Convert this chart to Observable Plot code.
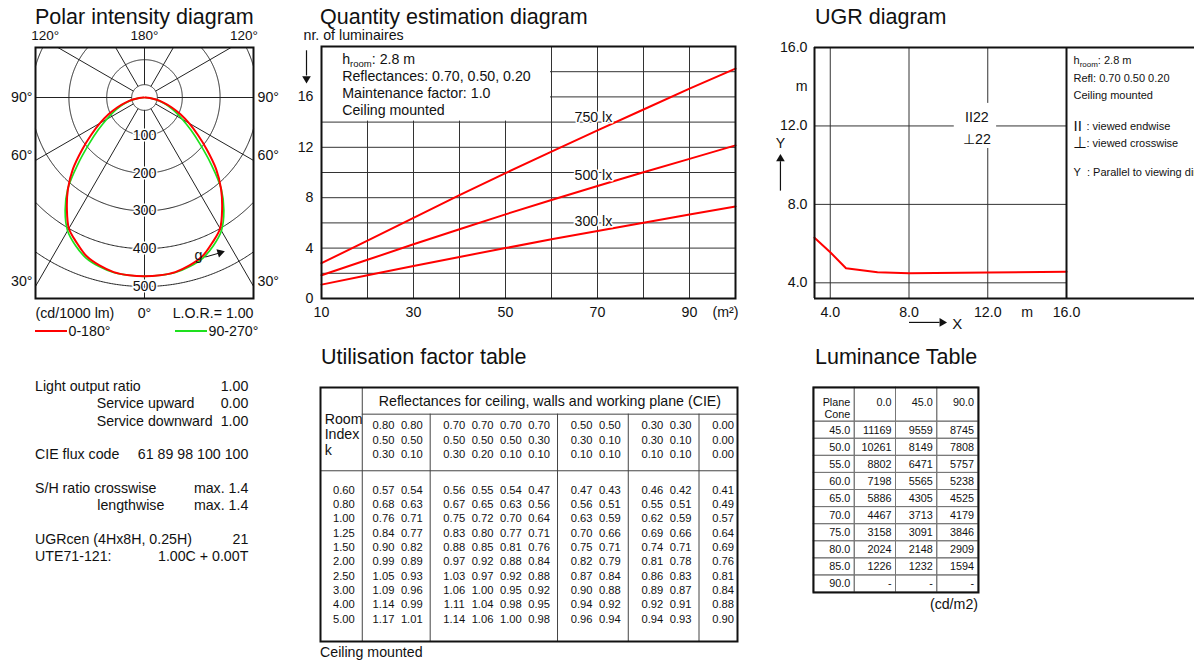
<!DOCTYPE html>
<html><head><meta charset="utf-8">
<script src="https://cdn.jsdelivr.net/npm/d3@7"></script>
<script src="https://cdn.jsdelivr.net/npm/@observablehq/plot@0.6"></script>
<style>
html,body{margin:0;padding:0;background:#fff;}
body{width:1194px;height:662px;overflow:hidden;position:relative;font-family:"Liberation Sans",Arial,Helvetica,sans-serif;color:#111;}
.t{position:absolute;white-space:nowrap;line-height:1;}
svg{position:absolute;}
</style></head><body>
<script>
// ================= DATA =================
// Polar intensity diagram (cd/1000 lm) by gamma angle from nadir
const gammaDeg = [0,5,10,15,20,25,30,35,40,45,50,55,60,65,70,75,80,85,90];
const intensityPlane0_180 = [473,472,469,460,447,424,400,358,315,268,216,172,136,105,77,52,31,14,2];
const intensityPlane90_270 = [473,472,470,463,452,432,407,366,316,249,192,150,116,90,68,48,29,13,2];
const polarRingValues = [100,200,300,400,500];
const polarSpokeAngles = [-150,-120,-90,-60,-30,0,30,60,90,120,150,180];
const polarTopLabels = [{a:-120,t:"120°"},{a:180,t:"180°"},{a:120,t:"120°"}];
const polarSideLabels = [{a:90,t:"90°"},{a:60,t:"60°"},{a:30,t:"30°"}];
const lorText = "L.O.R.= 1.00";

// Quantity estimation diagram
const roomArea = [10,20,30,40,50,60,70,80,90,100];
const luminaires750 = [2.8,4.6,6.4,8.2,9.95,11.65,13.35,15.0,16.65,18.25];
const luminaires500 = [1.85,3.07,4.3,5.5,6.68,7.82,8.93,10.02,11.08,12.15];
const luminaires300 = [1.1,1.85,2.58,3.3,4.0,4.7,5.36,6.02,6.67,7.3];
const levelNames = ["750 lx","500 lx","300 lx"];
const levelLabelY = [14.4,9.8,6.15];
const quantityInfo = ["hroom: 2.8 m","Reflectances: 0.70, 0.50, 0.20","Maintenance factor: 1.0","Ceiling mounted"];

// UGR diagram
const ugrX = [3.2,4.0,4.8,6.4,8.0,12.0,16.0];
const ugrY = [6.3,5.56,4.74,4.54,4.49,4.52,4.56];
const ugrEndwise = "II22", ugrCrosswise = "⊥22";

// Utilisation factor table
const ufGroupSizes = [2,4,2,2,1];
const ufCeiling = ["0.80","0.80","0.70","0.70","0.70","0.70","0.50","0.50","0.30","0.30","0.00"];
const ufWalls   = ["0.50","0.50","0.50","0.50","0.50","0.30","0.30","0.10","0.30","0.10","0.00"];
const ufPlane   = ["0.30","0.10","0.30","0.20","0.10","0.10","0.10","0.10","0.10","0.10","0.00"];
const ufRoomIndex = ["0.60","0.80","1.00","1.25","1.50","2.00","2.50","3.00","4.00","5.00"];
const ufValues = [
 ["0.57","0.54","0.56","0.55","0.54","0.47","0.47","0.43","0.46","0.42","0.41"],
 ["0.68","0.63","0.67","0.65","0.63","0.56","0.56","0.51","0.55","0.51","0.49"],
 ["0.76","0.71","0.75","0.72","0.70","0.64","0.63","0.59","0.62","0.59","0.57"],
 ["0.84","0.77","0.83","0.80","0.77","0.71","0.70","0.66","0.69","0.66","0.64"],
 ["0.90","0.82","0.88","0.85","0.81","0.76","0.75","0.71","0.74","0.71","0.69"],
 ["0.99","0.89","0.97","0.92","0.88","0.84","0.82","0.79","0.81","0.78","0.76"],
 ["1.05","0.93","1.03","0.97","0.92","0.88","0.87","0.84","0.86","0.83","0.81"],
 ["1.09","0.96","1.06","1.00","0.95","0.92","0.90","0.88","0.89","0.87","0.84"],
 ["1.14","0.99","1.11","1.04","0.98","0.95","0.94","0.92","0.92","0.91","0.88"],
 ["1.17","1.01","1.14","1.06","1.00","0.98","0.96","0.94","0.94","0.93","0.90"]
];

// Luminance table (cd/m2)
const lumPlanes = ["0.0","45.0","90.0"];
const lumCones = ["45.0","50.0","55.0","60.0","65.0","70.0","75.0","80.0","85.0","90.0"];
const lumValues = [
 [11169,9559,8745],[10261,8149,7808],[8802,6471,5757],[7198,5565,5238],[5886,4305,4525],
 [4467,3713,4179],[3158,3091,3846],[2024,2148,2909],[1226,1232,1594],[null,null,null]
];

// Text block
const infoRows = [
 ["Light output ratio","1.00",0],["Service upward","0.00",1],["Service downward","1.00",1],
 ["CIE flux code","61 89 98 100 100",0],["S/H ratio crosswise","max. 1.4",0],["lengthwise","max. 1.4",2],
 ["UGRcen (4Hx8H, 0.25H)","21",0],["UTE71-121:","1.00C + 0.00T",0]
];

// ================= HELPERS =================
const FONT = '"Liberation Sans", Arial, Helvetica, sans-serif';
const FS = 14.2;
const baseStyle = `font-family:${FONT};font-size:${FS}px;color:#111;background:none;overflow:visible;`;
const INK = "#111";
function put(svg, left, top){ svg.style.left = left+"px"; svg.style.top = top+"px"; document.body.appendChild(svg); return svg; }
function html(text, x, cy, size, anchor){
  const d = document.createElement("div"); d.className = "t"; d.textContent = text;
  d.style.fontSize = size+"px"; d.style.top = (cy - 0.4885*size)+"px";
  if (anchor === "end") d.style.right = (1194 - x)+"px"; else d.style.left = x+"px";
  document.body.appendChild(d); return d;
}
function title(text, x, baseline){
  const d = html(text, x, 0, 21.5); d.style.lineHeight = "0.9";
  d.style.top = (baseline - 0.7965*21.5)+"px";
}
function subRoom(svg, sub){
  const ns = "http://www.w3.org/2000/svg";
  svg.querySelectorAll("text").forEach(t => {
    if (t.textContent.startsWith("hroom")) {
      const rest = t.textContent.slice(5); t.textContent = "h";
      const s = document.createElementNS(ns,"tspan"); s.setAttribute("dy", 3); s.setAttribute("font-size", sub); s.textContent = "room";
      const r = document.createElementNS(ns,"tspan"); r.setAttribute("dy", -3); r.textContent = rest;
      t.append(s, r);
    }
  });
}

// ================= TITLES =================
title("Polar intensity diagram", 35, 25);
title("Quantity estimation diagram", 320, 25);
title("UGR diagram", 815, 25);
title("Utilisation factor table", 321, 365);
title("Luminance Table", 815, 365);

// ================= POLAR =================
const deg = Math.PI/180, hub = 34;
const PX = [-288.4, 288.4], PY = [-132.3, 531.7];
const inside = (x,y) => x >= PX[0] && x <= PX[1] && y >= PY[0] && y <= PY[1];
const ringPts = [hub, ...polarRingValues].flatMap(r => d3.range(0, 360.5, 0.5).map(t => {
  const x = r*Math.sin(t*deg), y = r*Math.cos(t*deg);
  return inside(x,y) ? {r, x, y} : {r, x: NaN, y: NaN};
}));
function rayEnd(a){
  const sx = Math.sin(a*deg), cy = Math.cos(a*deg);
  const tx = sx > 1e-9 ? PX[1]/sx : sx < -1e-9 ? PX[0]/sx : Infinity;
  const ty = cy > 1e-9 ? PY[1]/cy : cy < -1e-9 ? PY[0]/cy : Infinity;
  const t = Math.min(tx, ty); return {x: t*sx, y: t*cy};
}
function polarCurve(vals){
  const pts = gammaDeg.map((g,i) => ({g: -g, I: vals[i]})).reverse()
    .concat(gammaDeg.slice(1).map((g,i) => ({g, I: vals[i+1]})));
  return pts.map(p => ({x: p.I*Math.sin(p.g*deg), y: p.I*Math.cos(p.g*deg)}));
}
const polar = Plot.plot({
  width: 300, height: 305, marginLeft: 35, marginRight: 47, marginTop: 27, marginBottom: 27,
  x: {domain: PX, axis: null}, y: {domain: PY, reverse: true, axis: null},
  style: baseStyle,
  marks: [
    Plot.line(ringPts, {x: "x", y: "y", z: "r", stroke: "#222", strokeWidth: 1}),
    Plot.link(polarSpokeAngles, {x1: a => hub*Math.sin(a*deg), y1: a => hub*Math.cos(a*deg),
      x2: a => rayEnd(a).x, y2: a => rayEnd(a).y, stroke: "#222", strokeWidth: 1}),
    Plot.line(polarCurve(intensityPlane90_270), {x: "x", y: "y", stroke: "#1ee01e", strokeWidth: 1.7, curve: "catmull-rom"}),
    Plot.line(polarCurve(intensityPlane0_180), {x: "x", y: "y", stroke: "#ff0000", strokeWidth: 2, curve: "catmull-rom"}),
    Plot.text(polarRingValues, {x: 0, y: d => d, text: d => String(d), fontSize: FS, fill: INK, stroke: "white", strokeWidth: 3}),
    Plot.text(["g"], {x: 143, y: 417, text: d => d, fontSize: FS, fill: INK}),
    Plot.link([0], {x1: 161, y1: 422, x2: 196, y2: 412, stroke: INK, strokeWidth: 1}),
    Plot.dot([0], {x: 200, y: 410.5, symbol: "triangle", rotate: 73, r: 3.2, fill: INK, stroke: "none"}),
    Plot.frame({stroke: INK, strokeWidth: 2}),
    Plot.text(polarTopLabels, {x: d => d.a === 180 ? 0 : Math.sign(d.a)*263, text: "t", frameAnchor: "top", lineAnchor: "middle", dy: -11.5, fontSize: 13.5, fill: INK}),
    Plot.text(polarSideLabels.filter(d => d.a === 90), {y: 0, text: "t", frameAnchor: "left", textAnchor: "end", dx: -3, fontSize: FS, fill: INK}),
    Plot.text(polarSideLabels.filter(d => d.a === 90), {y: 0, text: "t", frameAnchor: "right", textAnchor: "start", dx: 4, fontSize: FS, fill: INK}),
    Plot.text(polarSideLabels.filter(d => d.a !== 90), {y: d => PX[1]/Math.tan(d.a*deg), text: "t", frameAnchor: "left", textAnchor: "end", dx: -3, dy: -5, fontSize: FS, fill: INK}),
    Plot.text(polarSideLabels.filter(d => d.a !== 90), {y: d => PX[1]/Math.tan(d.a*deg), text: "t", frameAnchor: "right", textAnchor: "start", dx: 4, dy: -5, fontSize: FS, fill: INK}),
    Plot.text(["(cd/1000 lm)"], {text: d => d, frameAnchor: "bottom-left", textAnchor: "start", lineAnchor: "middle", dy: 14.7, fontSize: FS, fill: INK}),
    Plot.text(["0°"], {x: 0, text: d => d, frameAnchor: "bottom", lineAnchor: "middle", dy: 14.7, fontSize: FS, fill: INK}),
    Plot.text([lorText], {text: d => d, frameAnchor: "bottom-right", textAnchor: "end", lineAnchor: "middle", dy: 14.7, fontSize: FS, fill: INK})
  ]
});
put(polar, 0, 20);
// legend
function legendLine(x, color, text){
  const d = document.createElement("div");
  Object.assign(d.style, {position: "absolute", left: x+"px", top: "330px", width: "32px", height: "2px", background: color});
  document.body.appendChild(d);
  html(text, x + 33.5, 331, FS);
}
legendLine(35, "#ff0000", "0-180°");
legendLine(175, "#1ee01e", "90-270°");

// ================= QUANTITY =================
const qSeries = [luminaires750, luminaires500, luminaires300].flatMap((s, k) => s.map((v, i) => ({level: levelNames[k], area: roomArea[i], n: v})));
const quantity = Plot.plot({
  width: 460, height: 295, marginLeft: 26, marginRight: 20, marginTop: 18, marginBottom: 25,
  x: {domain: [10, 100], ticks: [10,30,50,70,90], tickSize: 0, tickPadding: 8, label: null},
  y: {domain: [0, 20], ticks: [0,4,8,12,16], tickSize: 0, tickPadding: 8, label: null},
  style: baseStyle,
  marks: [
    Plot.ruleX(d3.range(20, 100, 10), {stroke: "#333", strokeWidth: 1}),
    Plot.ruleY(d3.range(2, 20, 2), {stroke: "#333", strokeWidth: 1}),
    Plot.rect([0], {x1: 10, x2: 60, y1: 14, y2: 20, fill: "white", insetRight: 1, insetBottom: 1}),
    Plot.line(qSeries, {x: "area", y: "n", z: "level", stroke: "#ff0000", strokeWidth: 2}),
    Plot.text(levelNames, {x: 65, y: (d, i) => levelLabelY[i], text: d => d, textAnchor: "start", fontSize: FS, fill: INK, stroke: "white", strokeWidth: 3}),
    Plot.text(quantityInfo, {x: 14.5, y: (d, i) => 19 - i*1.36, text: d => d, textAnchor: "start", fontSize: FS, fill: INK}),
    Plot.frame({stroke: INK, strokeWidth: 2}),
    Plot.text(["nr. of luminaires"], {text: d => d, frameAnchor: "top-left", textAnchor: "start", lineAnchor: "middle", dx: -18, dy: -11, fontSize: FS, fill: INK}),
    Plot.link([0], {x1: 6.74, x2: 6.74, y1: 19.7, y2: 17.7, stroke: INK, strokeWidth: 1.2}),
    Plot.dot([0], {x: 6.74, y: 17.45, symbol: "triangle", rotate: 180, r: 3.2, fill: INK, stroke: "none"}),
    Plot.text(["(m²)"], {x: 100, text: d => d, frameAnchor: "bottom", textAnchor: "end", lineAnchor: "top", dy: 8, dx: 3, fontSize: FS, fill: INK})
  ]
});
subRoom(quantity, 9.5);
put(quantity, 295, 28);

// ================= UGR =================
const ugrData = ugrX.map((x, i) => ({x, y: ugrY[i]}));
const ugrPanel = [
  {t: "hroom: 2.8 m", dy: 13, dx: 7, s: 11},
  {t: "Refl: 0.70 0.50 0.20", dy: 31, dx: 7, s: 11},
  {t: "Ceiling mounted", dy: 48, dx: 7, s: 11},
  {t: "II", dy: 78.5, dx: 7, s: 15},
  {t: ": viewed endwise", dy: 79, dx: 20, s: 11},
  {t: "⊥", dy: 95.5, dx: 6, s: 16},
  {t: ": viewed crosswise", dy: 96, dx: 20, s: 11},
  {t: "Y\u00a0\u00a0: Parallel to viewing direction", dy: 125, dx: 7, s: 11}
];
const f1 = d3.format(".1f");
const ugr = Plot.plot({
  width: 470, height: 310, marginLeft: 44, marginRight: 174, marginTop: 19, marginBottom: 40,
  x: {domain: [3.2, 16], ticks: [4,8,12,16], tickFormat: f1, tickSize: 0, tickPadding: 8, label: null},
  y: {domain: [3.2, 16], ticks: [4,8,12,16], tickFormat: f1, tickSize: 0, tickPadding: 7, label: null},
  style: baseStyle,
  marks: [
    Plot.ruleX([4,8,12], {stroke: "#333", strokeWidth: 1}),
    Plot.ruleY([4,8,12], {stroke: "#333", strokeWidth: 1}),
    Plot.rect([0], {x1: 10.3, x2: 12.45, y1: 10.85, y2: 13.15, fill: "white"}),
    Plot.text([ugrEndwise], {x: 11.45, y: 12.42, text: d => d, fontSize: FS, fill: INK}),
    Plot.text([ugrCrosswise], {x: 11.45, y: 11.3, text: d => d, fontSize: FS, fill: INK}),
    Plot.line(ugrData, {x: "x", y: "y", stroke: "#ff0000", strokeWidth: 2}),
    Plot.ruleY([3.2, 16], {x1: 3.2, x2: 40, stroke: INK, strokeWidth: 2}),
    Plot.ruleX([3.2, 16], {stroke: INK, strokeWidth: 2}),
    ...ugrPanel.map(p => Plot.text([p.t], {x: 16, text: d => d, frameAnchor: "top", textAnchor: "start", lineAnchor: "middle", dx: p.dx, dy: p.dy, fontSize: p.s, fill: INK})),
    Plot.text(["m"], {x: 14, text: d => d, frameAnchor: "bottom", lineAnchor: "top", dy: 8, fontSize: FS, fill: INK}),
    Plot.text(["m"], {y: 14, text: d => d, frameAnchor: "left", textAnchor: "end", dx: -7, fontSize: FS, fill: INK}),
    Plot.text(["Y"], {x: 1.47, y: 11.1, text: d => d, fontSize: FS, fill: INK}),
    Plot.link([0], {x1: 1.47, x2: 1.47, y1: 8.7, y2: 10.2, stroke: INK, strokeWidth: 1.2}),
    Plot.dot([0], {x: 1.47, y: 10.32, symbol: "triangle", r: 3.2, fill: INK, stroke: "none"}),
    Plot.link([0], {x1: 8.0, x2: 9.55, y1: 1.98, y2: 1.98, stroke: INK, strokeWidth: 1.2}),
    Plot.dot([0], {x: 9.68, y: 1.98, symbol: "triangle", rotate: 90, r: 3.2, fill: INK, stroke: "none"}),
    Plot.text(["X"], {x: 10.45, y: 1.9, text: d => d, fontSize: 15, fill: INK})
  ]
});
subRoom(ugr, 8);
put(ugr, 770, 28);

// ================= UTILISATION FACTOR TABLE =================
const colPos = []; const groupSeps = [];
{ let p = 0; ufGroupSizes.forEach((n, gi) => { for (let j = 0; j < n; j++) { colPos.push(p); p += 1; } if (gi < ufGroupSizes.length - 1) groupSeps.push(p - 1 + 0.75 - 0.1); p += 0.5; }); }
const kSep = -0.75, kCenter = -1.4, kLabelX = -2.08;
const ufX = [-2.226, colPos[colPos.length - 1] + 0.51];
const ufY = [0, 17.72];
const headLine = 1.86, sepLine = 5.81, reflRow0 = 2.67, dataRow0 = 7.16;
const reflCells = [ufCeiling, ufWalls, ufPlane].flatMap((arr, r) => arr.map((v, c) => ({x: colPos[c], y: reflRow0 + r*0.99, v})));
const ufCells = ufValues.flatMap((row, r) => row.map((v, c) => ({x: colPos[c], y: dataRow0 + r, v})));
const ufTable = Plot.plot({
  width: 419, height: 256, margin: 1,
  x: {domain: ufX, axis: null}, y: {domain: ufY, reverse: true, axis: null},
  style: baseStyle,
  marks: [
    Plot.ruleX([kSep], {stroke: "#444", strokeWidth: 1}),
    Plot.ruleX(groupSeps, {y1: headLine, y2: ufY[1], stroke: "#444", strokeWidth: 1}),
    Plot.ruleY([headLine], {x1: kSep, x2: ufX[1], stroke: "#444", strokeWidth: 1}),
    Plot.ruleY([sepLine], {stroke: "#444", strokeWidth: 1}),
    Plot.text(["Reflectances for ceiling, walls and working plane (CIE)"], {x: (kSep + ufX[1]) / 2, y: 0.98, text: d => d, fontSize: FS, fill: INK}),
    Plot.text(["Room", "Index", "k"], {x: kLabelX, y: (d, i) => [2.25, 3.3, 4.41][i], text: d => d, textAnchor: "start", fontSize: FS, fill: INK}),
    Plot.text(reflCells, {x: "x", y: "y", text: "v", fontSize: 11.2, fill: INK}),
    Plot.text(ufRoomIndex, {x: kCenter, y: (d, i) => dataRow0 + i, text: d => d, fontSize: 11.2, fill: INK}),
    Plot.text(ufCells, {x: "x", y: "y", text: "v", fontSize: 11.2, fill: INK}),
    Plot.frame({stroke: INK, strokeWidth: 2})
  ]
});
put(ufTable, 319, 385.7);
html("Ceiling mounted", 320, 652, FS);

// ================= LUMINANCE TABLE =================
const lumRects = [];
for (let c = 0; c < 4; c++) {
  lumRects.push({x1: c, x2: c + 1, y1: 0, y2: 2});
  lumCones.forEach((_, r) => lumRects.push({x1: c, x2: c + 1, y1: 2 + r, y2: 3 + r}));
}
const lumText = [];
lumCones.forEach((cone, r) => {
  lumText.push({x: 1, y: 2.5 + r, t: cone});
  lumValues[r].forEach((v, c) => lumText.push({x: c + 2, y: 2.5 + r, t: v == null ? "-" : String(v)}));
});
lumPlanes.forEach((p, c) => lumText.push({x: c + 2, y: 0.9, t: p}));
lumText.push({x: 1, y: 0.9, t: "Plane"}, {x: 1, y: 1.6, t: "Cone"});
const lumTable = Plot.plot({
  width: 167, height: 207, margin: 1,
  x: {domain: [0, 4], axis: null}, y: {domain: [0, 12], reverse: true, axis: null},
  style: baseStyle,
  marks: [
    Plot.rect(lumRects, {x1: "x1", x2: "x2", y1: "y1", y2: "y2", fill: "none", stroke: "#777", strokeWidth: 1}),
    Plot.text(lumText, {x: "x", y: "y", text: "t", textAnchor: "end", dx: -4.5, fontSize: 10.8, fill: INK}),
    Plot.frame({stroke: INK, strokeWidth: 2})
  ]
});
put(lumTable, 812.3, 385.7);
html("(cd/m2)", 978, 604, FS, "end");

// ================= TEXT BLOCK =================
const indentX = [35, 96.7, 97.3];
const infoY = [386, 403.3, 421, 454.3, 488.3, 505, 539, 555.5];
infoRows.forEach((r, i) => { html(r[0], indentX[r[2]], infoY[i], FS); html(r[1], 248.3, infoY[i], FS, "end"); });
</script>
</body></html>
